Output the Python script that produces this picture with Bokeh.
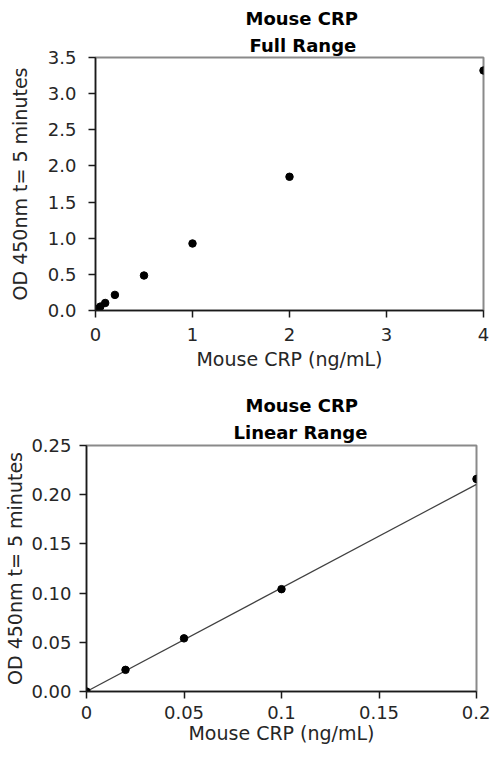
from bokeh.plotting import figure
from bokeh.models import Range1d, FixedTicker, Title
from bokeh.embed import file_html
from bokeh.resources import INLINE

# Full range data
full_x = [0, 0.02, 0.05, 0.1, 0.2, 0.5, 1, 2, 4]
full_y = [0, 0.022, 0.054, 0.104, 0.216, 0.484, 0.927, 1.85, 3.32]
full_xticks = [0, 1, 2, 3, 4]
full_xlabels = ["0", "1", "2", "3", "4"]
full_yticks = [0, 0.5, 1.0, 1.5, 2.0, 2.5, 3.0, 3.5]
full_ylabels = ["0.0", "0.5", "1.0", "1.5", "2.0", "2.5", "3.0", "3.5"]

# Linear range data
lin_x = [0, 0.02, 0.05, 0.1, 0.2]
lin_y = [0, 0.022, 0.054, 0.104, 0.216]
trend_x = [0, 0.2]
trend_y = [0, 0.2105]
lin_xticks = [0, 0.05, 0.1, 0.15, 0.2]
lin_xlabels = ["0", "0.05", "0.1", "0.15", "0.2"]
lin_yticks = [0, 0.05, 0.10, 0.15, 0.20, 0.25]
lin_ylabels = ["0.00", "0.05", "0.10", "0.15", "0.20", "0.25"]

FONT = "DejaVu Sans"
TXT = "#262626"


def style(p, xt, xl, yt, yl, y_ms, y_as, x_ms, x_as):
    p.grid.visible = False
    p.outline_line_color = "#8a8a8a"
    p.outline_line_width = 2
    p.background_fill_color = "white"
    p.border_fill_color = "white"
    for ax in (p.xaxis[0], p.yaxis[0]):
        ax.axis_line_color = "#1a1a1a"
        ax.axis_line_width = 1.5
        ax.major_tick_line_color = "#1a1a1a"
        ax.major_tick_line_width = 1.5
        ax.major_tick_out = 7
        ax.major_tick_in = 0
        ax.minor_tick_line_color = None
        ax.major_label_text_font = FONT
        ax.major_label_text_font_size = "18px"
        ax.major_label_text_color = TXT
        ax.axis_label_text_font = FONT
        ax.axis_label_text_font_size = "19px"
        ax.axis_label_text_font_style = "normal"
        ax.axis_label_text_color = TXT
    p.xaxis[0].ticker = FixedTicker(ticks=xt)
    p.xaxis[0].major_label_overrides = {t: s for t, s in zip(xt, xl)}
    p.yaxis[0].ticker = FixedTicker(ticks=yt)
    p.yaxis[0].major_label_overrides = {t: s for t, s in zip(yt, yl)}
    p.xaxis[0].major_label_standoff = x_ms
    p.xaxis[0].axis_label_standoff = x_as
    p.yaxis[0].major_label_standoff = y_ms
    p.yaxis[0].axis_label_standoff = y_as


def add_titles(p, line1, line2, off1, off2, so_inner, so_outer):
    p.title = None
    t2 = Title(text=line2, align="left", offset=off2, text_font=FONT,
               text_font_size="18px", text_font_style="bold",
               text_color="black", standoff=so_inner)
    t1 = Title(text=line1, align="left", offset=off1, text_font=FONT,
               text_font_size="18px", text_font_style="bold",
               text_color="black", standoff=so_outer)
    p.add_layout(t2, "above")
    p.add_layout(t1, "above")


p1 = figure(frame_width=388, frame_height=253,
            x_range=Range1d(0, 4), y_range=Range1d(0, 3.5),
            min_border_left=95, min_border_right=7, min_border_top=57,
            min_border_bottom=66,
            output_backend="svg", toolbar_location=None,
            x_axis_label="Mouse CRP (ng/mL)",
            y_axis_label="OD 450nm t= 5 minutes")
add_titles(p1, "Mouse CRP", "Full Range", 150, 154, 4, 4)
p1.scatter(full_x, full_y, size=7.5, color="black")
style(p1, full_xticks, full_xlabels, full_yticks, full_ylabels, 12, 14, 10, 4)

p2 = figure(frame_width=390, frame_height=246,
            x_range=Range1d(0, 0.2), y_range=Range1d(0, 0.25),
            min_border_left=86, min_border_right=14, min_border_top=69,
            min_border_bottom=57,
            output_backend="svg", toolbar_location=None,
            x_axis_label="Mouse CRP (ng/mL)",
            y_axis_label="OD 450nm t= 5 minutes")
add_titles(p2, "Mouse CRP", "Linear Range", 159, 147, 5, 4)
p2.line(trend_x, trend_y, line_color="#404040", line_width=1.2)
p2.scatter(lin_x, lin_y, size=7.5, color="black")
style(p2, lin_xticks, lin_xlabels, lin_yticks, lin_ylabels, 8, 2, 7, 0)

open("out.html", "w").write(file_html([p1, p2], INLINE))
